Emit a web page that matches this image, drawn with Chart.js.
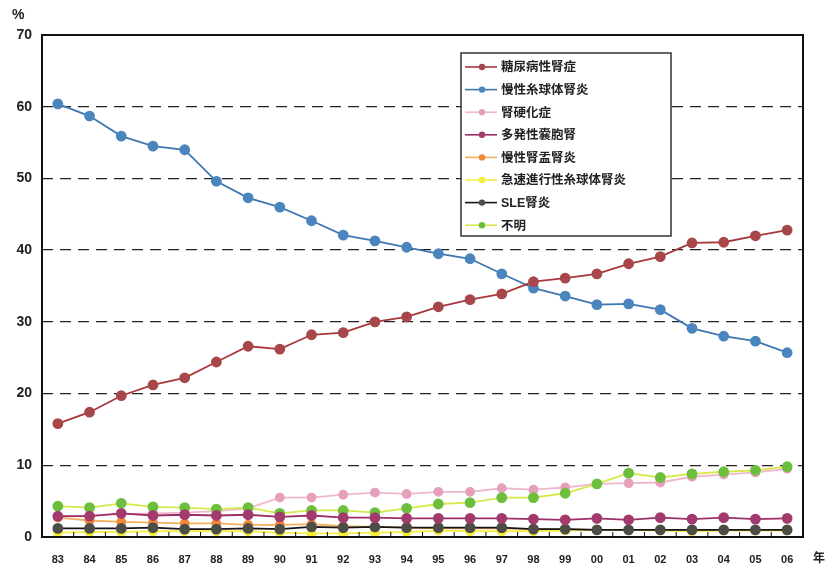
<!DOCTYPE html>
<html>
<head>
<meta charset="utf-8">
<script src="https://cdn.jsdelivr.net/npm/chart.js@4.4.0/dist/chart.umd.min.js"></script>
<style>
  html, body { margin: 0; padding: 0; background: #fff; }
  #wrap { position: relative; width: 834px; height: 571px; }
</style>
</head>
<body>
<div id="wrap"><canvas id="chart" width="834" height="571"></canvas></div>
<script>
// 年（横軸）
const years = ['83','84','85','86','87','88','89','90','91','92','93','94',
               '95','96','97','98','99','00','01','02','03','04','05','06'];

// 各疾患の割合（%）
const diabetic   = [15.8,17.4,19.7,21.2,22.2,24.4,26.6,26.2,28.2,28.5,30.0,30.7,32.1,33.1,33.9,35.6,36.1,36.7,38.1,39.1,41.0,41.1,42.0,42.8];
const chronicGN  = [60.4,58.7,55.9,54.5,54.0,49.6,47.3,46.0,44.1,42.1,41.3,40.4,39.5,38.8,36.7,34.7,33.6,32.4,32.5,31.7,29.1,28.0,27.3,25.7];
const nephroscl  = [2.8,3.0,3.2,3.3,3.4,3.6,4.0,5.5,5.5,5.9,6.2,6.0,6.3,6.3,6.8,6.6,6.9,7.4,7.5,7.6,8.4,8.7,9.0,9.5];
const polycystic = [2.9,2.9,3.3,3.0,3.1,3.0,3.1,2.8,3.0,2.7,2.7,2.6,2.6,2.6,2.6,2.5,2.4,2.6,2.4,2.7,2.5,2.7,2.5,2.6];
const pyelo      = [2.7,2.3,2.1,2.0,1.9,1.9,1.7,1.7,1.8,1.5,1.4,1.3,1.2,1.2,1.2,1.1,1.1,1.0,1.0,1.0,1.0,1.0,1.0,1.0];
const rpgn       = [0.6,0.7,0.7,0.8,0.8,0.8,0.8,0.6,0.5,0.5,0.6,0.7,0.9,0.8,0.8,0.8,0.9,1.0,1.0,0.9,0.8,0.9,0.9,0.9];
const sle        = [1.2,1.2,1.2,1.3,1.1,1.1,1.2,1.1,1.4,1.3,1.4,1.3,1.3,1.3,1.3,1.1,1.1,1.0,1.0,1.0,1.0,1.0,1.0,1.0];
const unknown    = [4.3,4.1,4.7,4.2,4.1,3.9,4.1,3.3,3.7,3.7,3.4,4.0,4.6,4.8,5.5,5.5,6.1,7.4,8.9,8.3,8.8,9.1,9.3,9.8];

const yTicks = [0,10,20,30,40,50,60,70];

function ds(label, data, line, dot, r, order) {
  return {
    label, data, order,
    borderColor: line, borderWidth: 1.8,
    pointBackgroundColor: dot, pointBorderColor: dot,
    pointRadius: r, pointHoverRadius: r,
    tension: 0
  };
}

// 枠線・目盛り・凡例を描くプラグイン
const frame = {
  id: 'frame',
  afterDraw(chart) {
    const { ctx, chartArea: a, scales: { x } } = chart;
    ctx.save();
    ctx.strokeStyle = '#111';
    ctx.lineWidth = 2;
    ctx.strokeRect(a.left, a.top, a.right - a.left, a.bottom - a.top);
    ctx.lineWidth = 1;
    for (let i = 0; i < years.length - 1; i++) {
      const px = (x.getPixelForTick(i) + x.getPixelForTick(i + 1)) / 2;
      ctx.beginPath();
      ctx.moveTo(px, a.bottom);
      ctx.lineTo(px, a.bottom - 5);
      ctx.stroke();
    }
    // 凡例
    const lx = a.left + 419, ly = a.top + 18, lw = 210, lh = 183;
    ctx.fillStyle = '#fff';
    ctx.fillRect(lx, ly, lw, lh);
    ctx.strokeStyle = '#333';
    ctx.lineWidth = 1.5;
    ctx.strokeRect(lx, ly, lw, lh);
    ctx.font = 'bold 12.5px "Liberation Sans", "Noto Sans CJK JP", sans-serif';
    ctx.textBaseline = 'middle';
    chart.data.datasets.forEach((d, i) => {
      const yy = ly + 14 + i * 22.6;
      ctx.strokeStyle = d.borderColor;
      ctx.lineWidth = 1.6;
      ctx.beginPath();
      ctx.moveTo(lx + 4, yy);
      ctx.lineTo(lx + 36, yy);
      ctx.stroke();
      ctx.fillStyle = d.pointBackgroundColor;
      ctx.beginPath();
      ctx.arc(lx + 21, yy, 3.2, 0, Math.PI * 2);
      ctx.fill();
      ctx.fillStyle = '#222';
      ctx.fillText(d.label, lx + 40, yy + 1);
    });
    // 単位
    ctx.fillStyle = '#222';
    ctx.font = 'bold 14px "Liberation Sans", sans-serif';
    ctx.textBaseline = 'alphabetic';
    ctx.fillText('%', 12, 19);
    ctx.font = 'bold 12px "Noto Sans CJK JP", sans-serif';
    ctx.fillText('年', a.right + 10, a.bottom + 25);
    ctx.restore();
  }
};

new Chart(document.getElementById('chart'), {
  type: 'line',
  data: {
    labels: years,
    datasets: [
      ds('糖尿病性腎症', diabetic, '#a8383c', '#a8474a', 4.5, 0),
      ds('慢性糸球体腎炎', chronicGN, '#3f77b0', '#4a86bd', 4.5, 0),
      ds('腎硬化症', nephroscl, '#efb8cd', '#e7a0bc', 4, 3),
      ds('多発性嚢胞腎', polycystic, '#9c2f67', '#a33a6e', 4.5, 1),
      ds('慢性腎盂腎炎', pyelo, '#f3b060', '#f08a3a', 4, 2),
      ds('急速進行性糸球体腎炎', rpgn, '#f3ee48', '#f2ee3a', 4, 4),
      ds('SLE腎炎', sle, '#151515', '#4d4d48', 4.5, 1),
      ds('不明', unknown, '#d8e84a', '#6cbf3c', 4.5, 2)
    ]
  },
  plugins: [frame],
  options: {
    responsive: false,
    animation: false,
    layout: { padding: { top: 35, right: 31, left: 0, bottom: 0 } },
    plugins: { legend: { display: false }, tooltip: { enabled: false } },
    scales: {
      x: {
        offset: true,
        grid: { display: false },
        border: { display: false },
        ticks: {
          color: '#222', padding: 8, maxRotation: 0, autoSkip: false,
          font: { family: 'Liberation Sans', size: 11, weight: 'bold' }
        },
        afterFit(s) { s.height = 34; }
      },
      y: {
        min: 0, max: 70,
        afterBuildTicks(s) { s.ticks = yTicks.map(v => ({ value: v })); },
        grid: {
          color: c => (c.tick.value > 0 && c.tick.value < 70) ? '#222' : 'rgba(0,0,0,0)',
          lineWidth: 1.3,
          drawTicks: false
        },
        border: { display: false, dash: [11, 7] },
        ticks: {
          color: '#222', padding: 10,
          font: { family: 'Liberation Sans', size: 14, weight: 'bold' }
        },
        afterFit(s) { s.width = 42; }
      }
    }
  }
});
</script>
</body>
</html>
